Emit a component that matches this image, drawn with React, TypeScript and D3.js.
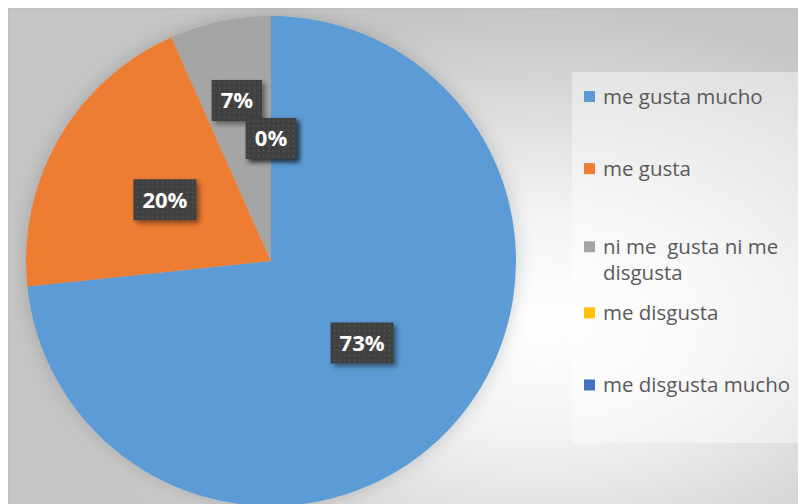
import React, { useEffect, useRef } from 'react';
import * as d3 from 'd3';

const categories = ['me gusta mucho', 'me gusta', 'ni me  gusta ni me\ndisgusta', 'me disgusta', 'me disgusta mucho'];
const counts = [22, 6, 2, 0, 0];
const colors = ['#5B9BD5', '#ED7D31', '#A5A5A5', '#FFC000', '#4472C4'];
// Excel "best fit" pushes the small slice label outward
const labelRadius = [0.5, 0.5, 0.67, 0.5, 0.5];

const W = 798;
const H = 496;
const cx = 263;
const cy = 253;
const r = 245;

const drawChart = (svgEl) => {
	const svg = d3.select(svgEl);
	svg.selectAll('*').remove();
	const total = d3.sum(counts);
	const fmt = d3.format('.0%');

	const defs = svg.append('defs');
	const bg = defs.append('radialGradient').attr('id', 'bg')
		.attr('cx', 0.66).attr('cy', 0.62).attr('r', 0.62);
	bg.append('stop').attr('offset', 0).attr('stop-color', '#ffffff');
	bg.append('stop').attr('offset', 0.35).attr('stop-color', '#f3f3f3');
	bg.append('stop').attr('offset', 1).attr('stop-color', '#c5c5c5');

	const pat = defs.append('pattern').attr('id', 'dots')
		.attr('width', 5).attr('height', 5).attr('patternUnits', 'userSpaceOnUse');
	pat.append('rect').attr('width', 5).attr('height', 5).attr('fill', '#404040');
	pat.append('circle').attr('cx', 2.5).attr('cy', 2.5).attr('r', 0.9).attr('fill', '#555555');

	const sh = defs.append('filter').attr('id', 'shadow')
		.attr('x', '-30%').attr('y', '-30%').attr('width', '170%').attr('height', '170%');
	sh.append('feDropShadow').attr('dx', 3).attr('dy', 3).attr('stdDeviation', 2.5)
		.attr('flood-color', '#000').attr('flood-opacity', 0.45);

	const glow = defs.append('filter').attr('id', 'glow')
		.attr('x', '-20%').attr('y', '-20%').attr('width', '140%').attr('height', '140%');
	glow.append('feDropShadow').attr('dx', 0).attr('dy', 0).attr('stdDeviation', 9)
		.attr('flood-color', '#000').attr('flood-opacity', 0.18);

	svg.append('rect').attr('x', 0.5).attr('y', 0.5)
		.attr('width', W + 10).attr('height', H + 10)
		.attr('fill', 'url(#bg)').attr('stroke', '#bfbfbf');

	const pie = d3.pie().sort(null).value((d) => d)
		.startAngle(0).endAngle(2 * Math.PI);
	const arcs = pie(counts);
	const arc = d3.arc().innerRadius(0).outerRadius(r);

	const g = svg.append('g').attr('transform', `translate(${ cx },${ cy })`);
	g.append('g').attr('filter', 'url(#glow)')
		.selectAll('path').data(arcs)
		.enter()
		.append('path')
		.attr('d', arc)
		.attr('fill', (d, i) => colors[i]);

	// data labels
	arcs.forEach((d, i) => {
		const la = d3.arc().innerRadius(r * labelRadius[i]).outerRadius(r * labelRadius[i]);
		const [x, y] = la.centroid(d);
		const lg = g.append('g').attr('transform', `translate(${ x },${ y })`);
		const box = lg.append('rect').attr('fill', 'url(#dots)').attr('filter', 'url(#shadow)');
		const t = lg.append('text')
			.attr('text-anchor', 'middle')
			.attr('dy', '0.36em')
			.attr('fill', '#ffffff')
			.style('font-family', '"Open Sans", sans-serif')
			.style('font-weight', 700)
			.style('font-size', '22px')
			.text(fmt(d.data / total));
		const tw = t.node().getComputedTextLength();
		box.attr('x', -tw / 2 - 9).attr('y', -20.5)
			.attr('width', tw + 18).attr('height', 41);
	});

	// legend
	svg.append('rect').attr('x', 564).attr('y', 64)
		.attr('width', 232).attr('height', 371)
		.attr('fill', '#ffffff').attr('fill-opacity', 0.4);
	const rowY = d3.scaleLinear().domain([0, categories.length - 1]).range([88.5, 377]);
	const legend = svg.append('g');
	categories.forEach((c, i) => {
		const lines = c.split('\n');
		const y = rowY(i) + (lines.length > 1 ? 6 : 0);
		legend.append('rect').attr('x', 576).attr('y', y - 5.5)
			.attr('width', 11).attr('height', 11).attr('fill', colors[i]);
		const t = legend.append('text')
			.attr('x', 595).attr('y', y)
			.attr('fill', '#595959')
			.style('font-family', '"Open Sans", sans-serif')
			.style('font-size', '20.5px')
			.style('white-space', 'pre');
		lines.forEach((l, j) => {
			t.append('tspan').attr('x', 595).attr('y', y + j * 26)
				.attr('dy', '0.35em').text(l);
		});
	});
};

const App = () => {
	const ref = useRef(null);

	useEffect(() => drawChart(ref.current), []);

	return (
		<svg ref={ ref } width={ W } height={ H } style={ { display: 'block' } }/>
	);
};

export default App;
